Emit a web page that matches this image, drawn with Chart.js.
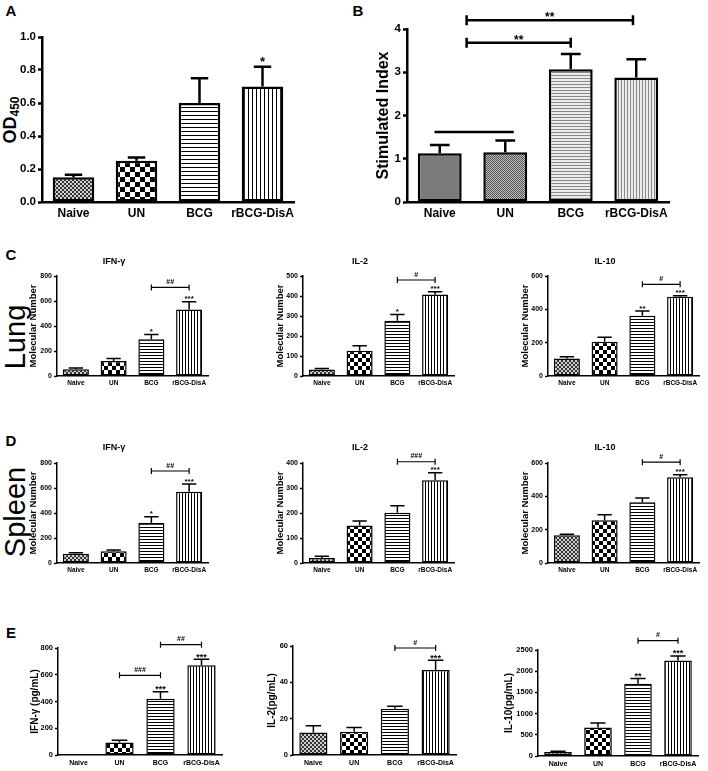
<!DOCTYPE html>
<html><head><meta charset="utf-8">
<script src="https://cdn.jsdelivr.net/npm/chart.js@4.4.0/dist/chart.umd.min.js"></script>
<style>
body{margin:0;background:#fff;width:708px;height:771px;position:relative;overflow:hidden;font-family:'Liberation Sans',Arial,sans-serif;}
canvas{position:absolute;}
.t{position:absolute;color:#000;white-space:nowrap;line-height:1;}
.rot{transform:translate(-50%,-50%) rotate(-90deg);}
.pl{font-weight:bold;font-size:15px;transform:translate(-50%,-50%);}
</style></head><body>
<div class="t pl" style="left:11px;top:10px">A</div>
<div class="t pl" style="left:358px;top:10px">B</div>
<div class="t pl" style="left:11px;top:254px">C</div>
<div class="t pl" style="left:11px;top:440px">D</div>
<div class="t pl" style="left:11px;top:632px">E</div>
<div class="t rot" style="left:15px;top:337px;font-size:29px;">Lung</div>
<div class="t rot" style="left:15px;top:512px;font-size:29px;">Spleen</div>
<div class="t rot" style="left:11px;top:120px;font-size:18px;font-weight:bold;">OD<sub style="font-size:12px;vertical-align:-3px">450</sub></div>
<script>
const FAM = "'Liberation Sans', Arial, sans-serif";
const categories = ['Naive', 'UN', 'BCG', 'rBCG-DisA'];

// A: OD450
const odMean = [0.15, 0.25, 0.60, 0.70];
const odSem = [0.015, 0.02, 0.15, 0.12];
const odStars = ['', '', '', '*'];
const odTicks = [0, 1.0, 0.2];

// B: Stimulated Index
const siMean = [1.13, 1.15, 3.07, 2.88];
const siSem = [0.19, 0.27, 0.35, 0.42];
const siTicks = [0, 4, 1];

// C: Lung (molecular number)
const lungIfn = [55, 120, 295, 532];
const lungIfnSem = [10, 20, 37, 63];
const lungIl2 = [32, 126, 276, 407];
const lungIl2Sem = [5, 25, 32, 14];
const lungIl10 = [105, 206, 362, 476];
const lungIl10Sem = [11, 26, 28, 6];

// D: Spleen (molecular number)
const splIfn = [75, 95, 320, 570];
const splIfnSem = [7, 10, 50, 62];
const splIl2 = [20, 150, 201, 331];
const splIl2Sem = [7, 18, 28, 30];
const splIl10 = [166, 256, 364, 514];
const splIl10Sem = [6, 34, 26, 16];

// E: cytokines pg/mL
const eIfn = [0, 94, 420, 671];
const eIfnSem = [0, 16, 52, 44];
const eIl2 = [12.4, 12.8, 25.4, 46.8];
const eIl2Sem = [3.7, 2.4, 1.5, 5.3];
const eIl10 = [95, 670, 1703, 2255];
const eIl10Sem = [15, 111, 126, 103];

function makePattern(kind, s, fg, bg) {
  const c = document.createElement('canvas');
  const x = c.getContext('2d');
  if (kind === 'check') {
    c.width = c.height = 2 * s;
    x.fillStyle = bg; x.fillRect(0, 0, 2 * s, 2 * s);
    x.fillStyle = fg; x.fillRect(0, 0, s, s); x.fillRect(s, s, s, s);
  } else if (kind === 'h') {
    c.width = 4; c.height = s;
    x.fillStyle = bg; x.fillRect(0, 0, 4, s);
    x.fillStyle = fg; x.fillRect(0, 0, 4, 1);
  } else {
    c.width = s; c.height = 4;
    x.fillStyle = bg; x.fillRect(0, 0, s, 4);
    x.fillStyle = fg; x.fillRect(0, 0, 1, 4);
  }
  return x.createPattern(c, 'repeat');
}
const patsA = [makePattern('check', 2, '#333', '#cfcfcf'), makePattern('check', 5, '#000', '#fff'), makePattern('h', 4, '#000', '#fff'), makePattern('v', 4, '#000', '#fff')];
const patsB = ['#7b7b7b', makePattern('check', 1, '#555', '#bdbdbd'), makePattern('h', 3, '#8a8a8a', '#ececec'), makePattern('v', 3, '#8a8a8a', '#ececec')];
const patsS = [makePattern('check', 2, '#333', '#cfcfcf'), makePattern('check', 4, '#000', '#fff'), makePattern('h', 3, '#000', '#fff'), makePattern('v', 3, '#000', '#fff')];

const annot = {
  id: 'annot',
  afterDatasetsDraw(chart) {
    const o = chart.options.plugins.annot;
    const ctx = chart.ctx, ys = chart.scales.y, xs = chart.scales.x;
    const ds = chart.data.datasets[0];
    const meta = chart.getDatasetMeta(0);
    ctx.save();
    ctx.strokeStyle = '#000'; ctx.fillStyle = '#000';
    ctx.lineWidth = o.lw; ctx.lineCap = 'butt';
    meta.data.forEach((el, i) => {
      const v = ds.data[i], e = o.err[i];
      if (!e) return;
      const xc = el.x, w = el.width;
      const yb = ys.getPixelForValue(v), yc = ys.getPixelForValue(v + e);
      ctx.beginPath();
      ctx.moveTo(xc, yb); ctx.lineTo(xc, yc);
      ctx.moveTo(xc - w * o.cap / 2, yc); ctx.lineTo(xc + w * o.cap / 2, yc);
      ctx.stroke();
      const s = o.stars[i];
      if (s) {
        ctx.font = 'bold ' + o.starFont + 'px ' + FAM;
        ctx.textAlign = 'center'; ctx.textBaseline = 'alphabetic';
        ctx.fillText(s, xc, yc - o.starGap + 0.58 * o.starFont);
      }
    });
    (o.brackets || []).forEach(b => {
      const x1 = xs.getPixelForValue(b.from), x2 = xs.getPixelForValue(b.to);
      const yy = ys.getPixelForValue(b.y);
      ctx.lineWidth = o.blw;
      ctx.beginPath();
      ctx.moveTo(x1, yy); ctx.lineTo(x2, yy);
      if (b.ends !== false) {
        ctx.moveTo(x1, yy - o.bh); ctx.lineTo(x1, yy + o.bh);
        ctx.moveTo(x2, yy - o.bh); ctx.lineTo(x2, yy + o.bh);
      }
      ctx.stroke();
      if (b.label) {
        ctx.font = 'bold ' + o.brFont + 'px ' + FAM;
        ctx.textAlign = 'center'; ctx.textBaseline = 'alphabetic';
        const k = b.label.indexOf('*') >= 0 ? 0.58 : 0.36;
        ctx.fillText(b.label, (x1 + x2) / 2, yy - o.bd + k * o.brFont);
      }
    });
    ctx.restore();
  }
};

function build(p) {
  const g = p.g;
  const cl = g.l - g.yw, ct = g.t - g.top;
  const cw = g.r - g.l + g.yw + g.rp, ch = g.b - g.t + g.top + g.xh;
  const c = document.createElement('canvas');
  c.width = cw; c.height = ch;
  c.style.left = cl + 'px'; c.style.top = ct + 'px';
  c.style.width = cw + 'px'; c.style.height = ch + 'px';
  document.body.appendChild(c);
  let padTop = g.top, titleOpt = { display: false };
  if (p.title) {
    const lh = p.titleFont * 1.2;
    titleOpt = { display: true, text: p.title, color: '#000',
      font: { size: p.titleFont, weight: 'bold', family: FAM, lineHeight: 1.2 },
      padding: { top: p.titleY - ct - lh / 2, bottom: g.t - p.titleY - lh / 2 } };
    padTop = 0;
  }
  const ylh = (p.yTitleFont || 10) * 1.2;
  new Chart(c, {
    type: 'bar',
    data: { labels: categories, datasets: [{ data: p.values, backgroundColor: p.pats,
      borderColor: '#000', borderWidth: p.bw, borderSkipped: false,
      categoryPercentage: 1, barPercentage: p.barPct }] },
    options: {
      responsive: false, animation: false, devicePixelRatio: 1,
      layout: { padding: { top: padTop, right: g.rp, left: 0, bottom: 0 } },
      plugins: { legend: { display: false }, tooltip: { enabled: false }, title: titleOpt,
        annot: { err: p.sem, stars: p.stars, lw: p.bw, cap: p.cap || 0.5, starFont: p.starFont,
          starGap: p.starGap, brackets: p.brackets, blw: p.blw, bh: p.bh, bd: p.bd, brFont: p.brFont } },
      scales: {
        x: { grid: { display: false, drawTicks: false }, border: { display: true, color: '#000', width: p.bw },
          ticks: { color: '#000', font: { size: p.catFont, weight: 'bold', family: FAM }, padding: p.xPad,
            maxRotation: 0, autoSkip: false },
          afterFit: s => { s.height = g.xh; } },
        y: { min: p.ticks[0], max: p.ticks[1],
          grid: { display: true, drawOnChartArea: false, drawTicks: true, tickLength: p.tickLen, tickColor: '#000', tickWidth: p.bw, color: '#000' },
          border: { display: true, color: '#000', width: p.bw },
          ticks: { stepSize: p.ticks[2], color: '#000', padding: 2, font: { size: p.tickFont, weight: 'bold', family: FAM },
            callback: p.fmt || (v => v) },
          title: p.yTitle ? { display: true, text: p.yTitle, color: '#000',
            font: { size: p.yTitleFont, weight: 'bold', family: FAM, lineHeight: 1.2 },
            padding: { top: p.yTitleX - cl - ylh / 2, bottom: 0 } } : { display: false },
          afterFit: s => { s.width = g.yw; } }
      }
    },
    plugins: [annot]
  });
}

// Panel A
build({ g: { l: 42, t: 37, r: 294, b: 202, yw: 42, top: 30, xh: 20, rp: 12 },
  values: odMean, sem: odSem, stars: odStars, ticks: odTicks, fmt: v => v.toFixed(1),
  pats: patsA, bw: 2.5, barPct: 0.66, tickFont: 11.5, catFont: 12, xPad: 4, tickLen: 4,
  starFont: 13, starGap: 8, cap: 0.42, blw: 2.5, bh: 5, bd: 5, brFont: 12 });

// Panel B
build({ g: { l: 407, t: 29, r: 669, b: 202, yw: 53, top: 29, xh: 20, rp: 10 },
  values: siMean, sem: siSem, stars: ['', '', '', ''], ticks: siTicks,
  pats: patsB, bw: 2.5, barPct: 0.67, tickFont: 11.5, catFont: 12, xPad: 4, tickLen: 4,
  yTitle: 'Stimulated Index', yTitleX: 384, yTitleFont: 16,
  starFont: 12, starGap: 8, cap: 0.45, blw: 2.5, bh: 5, bd: 6, brFont: 12,
  brackets: [{ from: 0.41, to: 2, y: 3.68, label: '**' }, { from: 0.41, to: 2.95, y: 4.2, label: '**' },
    { from: -0.08, to: 1.13, y: 1.62, label: '', ends: false }] });

const small = { bw: 1.5, barPct: 0.69, tickFont: 7, catFont: 6.5, xPad: 3, tickLen: 3,
  starFont: 8, starGap: 5, cap: 0.55, blw: 1.2, bh: 3, bd: 6, brFont: 7, titleFont: 9,
  yTitle: 'Molecular Number', yTitleFont: 9.5, pats: patsS };

// Row C (Lung)
build(Object.assign({}, small, { g: { l: 57, t: 276, r: 208, b: 376, yw: 37, top: 26, xh: 12, rp: 10 },
  title: 'IFN-γ', titleY: 262, yTitleX: 33, values: lungIfn, sem: lungIfnSem, ticks: [0, 800, 200],
  stars: ['', '', '*', '***'], brackets: [{ from: 2, to: 3, y: 709, label: '##' }] }));
build(Object.assign({}, small, { g: { l: 303, t: 276, r: 454, b: 376, yw: 37, top: 26, xh: 12, rp: 10 },
  title: 'IL-2', titleY: 262, yTitleX: 280, values: lungIl2, sem: lungIl2Sem, ticks: [0, 500, 100],
  stars: ['', '', '*', '***'], brackets: [{ from: 2, to: 3, y: 480, label: '#' }] }));
build(Object.assign({}, small, { g: { l: 548, t: 276, r: 699, b: 376, yw: 37, top: 26, xh: 12, rp: 8 },
  title: 'IL-10', titleY: 262, yTitleX: 525, values: lungIl10, sem: lungIl10Sem, ticks: [0, 600, 200],
  stars: ['', '', '**', '***'], brackets: [{ from: 2, to: 3, y: 550, label: '#' }] }));

// Row D (Spleen)
build(Object.assign({}, small, { g: { l: 57, t: 463, r: 208, b: 563, yw: 37, top: 26, xh: 12, rp: 10 },
  title: 'IFN-γ', titleY: 448, yTitleX: 33, values: splIfn, sem: splIfnSem, ticks: [0, 800, 200],
  stars: ['', '', '*', '***'], brackets: [{ from: 2, to: 3, y: 736, label: '##' }] }));
build(Object.assign({}, small, { g: { l: 303, t: 463, r: 454, b: 563, yw: 37, top: 26, xh: 12, rp: 10 },
  title: 'IL-2', titleY: 448, yTitleX: 280, values: splIl2, sem: splIl2Sem, ticks: [0, 400, 100],
  stars: ['', '', '', '***'], brackets: [{ from: 2, to: 3, y: 405, label: '###' }] }));
build(Object.assign({}, small, { g: { l: 548, t: 463, r: 699, b: 563, yw: 37, top: 26, xh: 12, rp: 8 },
  title: 'IL-10', titleY: 448, yTitleX: 525, values: splIl10, sem: splIl10Sem, ticks: [0, 600, 200],
  stars: ['', '', '', '***'], brackets: [{ from: 2, to: 3, y: 605, label: '#' }] }));

// Row E
const eOpt = Object.assign({}, small, { tickFont: 7.5, catFont: 7, yTitleFont: 10, starFont: 9, xPad: 4 });
build(Object.assign({}, eOpt, { g: { l: 58, t: 648, r: 222, b: 755, yw: 36, top: 28, xh: 15, rp: 10 },
  yTitle: 'IFN-γ (pg/mL)', yTitleX: 35, values: eIfn, sem: eIfnSem, ticks: [0, 800, 200],
  stars: ['', '', '***', '***'], brackets: [{ from: 1, to: 2, y: 596, label: '###' }, { from: 2, to: 3, y: 825, label: '##' }] }));
build(Object.assign({}, eOpt, { g: { l: 293, t: 646, r: 456, b: 755, yw: 35, top: 28, xh: 15, rp: 10 },
  yTitle: 'IL-2(pg/mL)', yTitleX: 272, values: eIl2, sem: eIl2Sem, ticks: [0, 60, 20],
  stars: ['', '', '', '***'], brackets: [{ from: 2, to: 3, y: 58.9, label: '#' }] }));
build(Object.assign({}, eOpt, { g: { l: 538, t: 650, r: 698, b: 756, yw: 44, top: 28, xh: 14, rp: 9 },
  yTitle: 'IL-10(pg/mL)', yTitleX: 509, values: eIl10, sem: eIl10Sem, ticks: [0, 2500, 500],
  stars: ['', '', '**', '***'], brackets: [{ from: 2, to: 3, y: 2721, label: '#' }] }));
</script>
</body></html>
